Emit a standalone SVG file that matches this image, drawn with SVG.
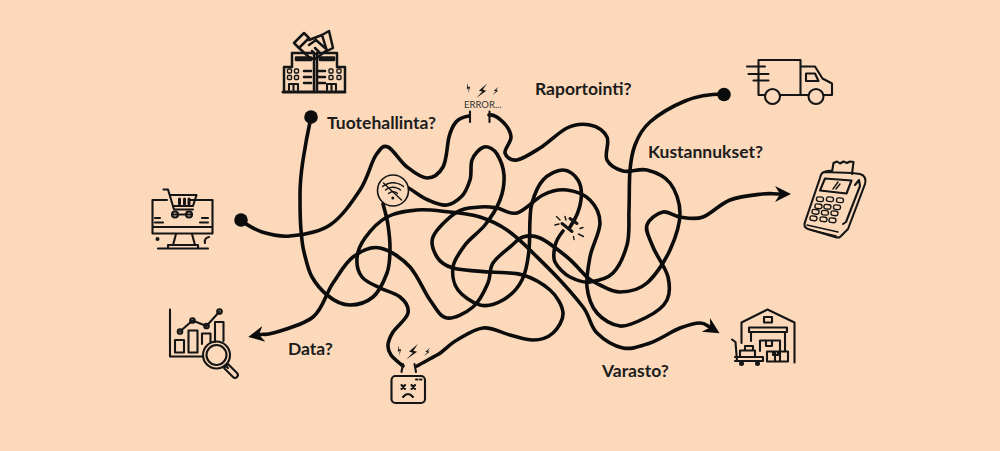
<svg xmlns="http://www.w3.org/2000/svg" width="1000" height="451" viewBox="0 0 1000 451">
<style>
.wire{fill:none;stroke:#0c0c0c;stroke-width:3.6;stroke-linecap:round;stroke-linejoin:round}
.ic{fill:none;stroke:#151515;stroke-width:2.1;stroke-linecap:round;stroke-linejoin:round}
.bd{stroke-width:2.5}
.th{stroke-width:3}
.tn{stroke-width:1.4}
.f{fill:#151515;stroke:none}
.lab{font-family:"Lato","Liberation Sans",sans-serif;font-size:17.500px;font-weight:700;fill:#1c1c1c}
</style>
<defs>
<marker id="ah" markerUnits="userSpaceOnUse" markerWidth="20" markerHeight="20" viewBox="0 -10 20 20" refX="6" refY="0" orient="auto">
<path d="M16 0L0-8L5 0L0 8Z" fill="#0c0c0c"/>
</marker>
<path id="bolt" d="M2-7L-3 0.500H0L-3.500 7L3-1H0Z" fill="#151515"/>
</defs>
<rect width="1000" height="451" fill="#fbd9ba"/>
<g id="connectors">
<path class="wire" d="M311 117C308 131 305 147 303 160S300 183 300 195S300 220 301 230S302 244 304 252S308 270 312 277S321 290 327 295S342 305 350 305S367 302 373 297S384 281 387 273S390 255 390 247S389 232 388 225S385 211 383 204"/>
<path class="wire" d="M241 221C248 225 254 229.500 262 232S279 237 290 236S318 233 330 225S352 202 360 190S371 162 376 155S383 145 388 147S400.500 162 407 167S421 178 427 178S439 174 443 167S447 144.500 449 137S453 125.500 456 122S463 117 469 116"/>
<path class="wire" d="M407 187C414 191 421 197 428 200S441 206 447 205S458 200 462 196S468 186 470 180S470 165.500 472 160S480 148 484 147S494 149 497 154S503.500 167 504 175S503 192 500 200S491 217.500 485 225S470 238 465 245S454 259.500 453 267S453.500 284 458 290S472.500 303 480 305S496 304 503 300S518 288 522 280S528 260 529 250S529.500 228 530 220S530 210 532 203S538 185.500 543 180S557 170 563 170S575 175 578 180S582 192 581 200S577 217 570 227"/>
<path class="wire" d="M563 231C559 236 556 241 555 246S552.500 257 555 262S564 274 570 277S583 283 590 282S607 279 613 273S624 255.500 627 245S628.500 222.500 629 210S629 181 630 170S632 153 635 145S642 129 650 122S673 106 685 101S710 94 723 94"/>
<path class="wire" marker-end="url(#ah)" d="M489 115C494 114 499 118 503 122S510.700 132 511 137S504 149 505 153S511 161 517 160S532 153 540 148S559 132 567 128S583 123.500 590 125S604 131 607 137S604 154 607 160S616 169 623 171S639 168 647 170S664.500 176 670 183S680 202 680 213S675.500 238 670 250S655 276 647 283S628 292 620 292S605.500 287.500 600 285S592.500 282 587 277S575 263.500 567 257S547 241 540 238S528 235.500 523 237S515 243 510 247S497 257 493 263S491 276 488 283S480 301 473 307S454 319 447 318S436 308.500 430 300S418 276 410 267S389.500 250 380 248S361 251 353 257S340 273 333 283S323 309 313 317S283.500 330 273 333S268 333 258 335"/>
<path class="wire" marker-end="url(#ah)" d="M417 366C424 362 430 359 437 355S449 344.500 457 340S474 329 483 328S502 333 510 335S526 340 533 340S548 337.500 553 333S563.500 320 563 313S557 296 550 290S533 278 523 275S502 273 490 272S462 270.500 453 268S440 262 437 257S430 244.500 433 237S449 217 457 212S473 208 480 207S491 207 497 208S509 215 517 213S535 199 543 195S559 189 567 190S584.500 194.500 590 200S600 213.500 600 223S592 246 590 257S586 278 587 287S591.500 306.500 597 313S612 325 620 326S639 321 647 317S663.500 307 667 300S670 286 668 277S656.500 256 653 247S645 231 647 225S657.500 213 663 212S673 216 680 217S695 220 703 217S720 204 730 200S753 195 762 194S772 194 781 194"/>
<path class="wire" marker-end="url(#ah)" d="M403 366C398 362 393.500 358.500 391 355S387.700 349 388 345S390 337 393 332S407 319 408 313S405 301 400 297S386 291 380 288S366 282 362 277S356.500 264.500 357 258S360 245 365 238S378 222 387 217S406.500 211 417 210S439.500 211 450 212S470.500 214 480 217S499 224.500 507 230S522 242 530 250S548 267.500 557 277S576 298 583 307S590 326 597 333S614 346 623 348S640.500 346 650 343S672 331 680 328S695 323 700 323S706 325 711 328"/>
</g>
<g id="dots"><circle cx="311" cy="117" r="6.800" fill="#0c0c0c"/><circle cx="241" cy="220" r="6.800" fill="#0c0c0c"/><circle cx="724" cy="94.500" r="6.800" fill="#0c0c0c"/></g>
<g id="buildings">
<path class="ic th" d="M283 92H345"/>
<path class="ic bd" d="M284 90V67H292V53H314V90M345 90V67H337V53H317V90M296 57.500H311V60H296ZM320 57.500H334V60H320Z"/>
<path class="ic bd" d="M304 71H311M304 77H311M304 83H311M318 71H325M318 77H325M318 83H325"/>
<g class="ic tn"><rect x="287.500" y="69" width="4" height="4" rx="1"/><rect x="294.500" y="69" width="4" height="4" rx="1"/><rect x="287.500" y="75.500" width="4" height="4" rx="1"/><rect x="294.500" y="75.500" width="4" height="4" rx="1"/><rect x="329" y="69" width="4" height="4" rx="1"/><rect x="337" y="69" width="4" height="4" rx="1"/><rect x="329" y="75.500" width="4" height="4" rx="1"/><rect x="337" y="75.500" width="4" height="4" rx="1"/></g>
<path class="ic" d="M289 90V84H298V90M293.500 84V90M327 90V84H336V90M331.500 84V90"/>
<path class="ic bd" fill="#fbd9ba" d="M294 43L304 33L309 38L299 48Z"/>
<path class="ic bd" fill="#fbd9ba" d="M322 35L329 31L333 48L327 51Z"/>
<path class="ic bd" d="M309 40L322 35M299 48L310 58Q315 60 318 57L327 50M309 45L316 40L325 48M312 51L315 54M315 48L319 52"/>
</g>
<g id="monitor">
<path class="ic" d="M167 200H152.500V233.500H212.500V200H190M152.500 227H212.500"/>
<path class="ic" d="M176 234L173 245M192 234L195 245M168 245H198V248.500H168ZM158 248.500H208"/>
<circle class="f" cx="157.500" cy="239" r="2"/>
<path class="ic" d="M209 237Q204 238 205 243"/>
<path class="ic" d="M163.500 189.500H168L174 209.500H193M170.500 195H196.500L193 206H173.500"/>
<path class="ic th" d="M179.500 199V204M184.500 199V204M189 199V204"/>
<path class="ic" d="M172 214.500H192"/><circle class="ic" cx="175" cy="214.500" r="3"/><circle class="ic" cx="189" cy="214.500" r="3"/>
<path class="ic" d="M155 218H160M155 222.500H163M202 218H208M200 222.500H208"/>
</g>
<g id="chart">
<path class="ic" d="M170 309.500V356.500H203"/>
<rect class="ic" x="175" y="340" width="9" height="12.500"/><rect class="ic" x="188.500" y="330.500" width="9" height="22"/><path class="ic" d="M202 344V333.500H210.500V342M215 342V322H223.500V341"/>
<path class="ic" d="M180 331.500L192.500 320.500L206.500 326L219.500 311.500"/>
<g class="ic" fill="#fbd9ba"><circle cx="180" cy="331.500" r="2.300"/><circle cx="192.500" cy="320.500" r="2.300"/><circle cx="206.500" cy="326" r="2.300"/><circle cx="219.500" cy="311.500" r="2.300"/></g>
<circle class="ic" cx="216.500" cy="355" r="13.500"/><circle class="ic" cx="216.500" cy="355" r="10"/>
<path class="ic" d="M225.500 365.500L228 368M228 364L237 373A2.800 2.800 0 0 1 233 377L224 368Z"/>
</g>
<g id="truck">
<path class="ic" d="M758.500 60H800.500V95H780M764.500 95H758.500V60M800.500 66.500H815L822.500 78.500L832 83.500V95H824M808 95H800M806 73.500H815L818.500 81H806Z"/>
<circle class="ic" cx="772.500" cy="96.500" r="7.500"/><circle class="ic" cx="816" cy="96.500" r="7.500"/>
<path class="ic" d="M747 66.500H765M748.500 74H768.500M753.500 80.500H768.500"/>
</g>
<g id="pos">
<path class="ic" d="M824 172Q830 170 832 171M852 173L860 174Q867 176 865 184L848 229L840 237Q838 238 835 237L808 229Q803 227 805 222L820 178Q821 173 824 172Z"/>
<path class="ic" d="M832 172L833.500 163L837 161.500L840 163.500L843.500 161.500L847 163L850 161.500L853.500 162L852 174"/>
<path class="ic" d="M825 178.500L851.500 180.500L846.500 193.500L820 190.500Z"/>
<path class="ic tn" d="M833 189L838 182M836 189L840 184"/>
<path class="ic" d="M855 185L859 180L860 186L846 222L843 224"/>
<g class="ic tn"><rect x="816.500" y="197" width="7" height="4.500" rx="2" transform="rotate(6 820 199)"/><rect x="826.500" y="197" width="7" height="4.500" rx="2" transform="rotate(6 830 199)"/><rect x="836.500" y="198" width="7" height="4.500" rx="2" transform="rotate(6 840 200)"/><rect x="815" y="204" width="7" height="4.500" rx="2" transform="rotate(6 818 206)"/><rect x="824" y="204.500" width="7" height="4.500" rx="2" transform="rotate(6 827 206)"/><rect x="833.500" y="205" width="7" height="4.500" rx="2" transform="rotate(6 837 207)"/><rect x="812" y="209.500" width="7" height="4.500" rx="2" transform="rotate(6 815 212)"/><rect x="821.500" y="210.500" width="7" height="4.500" rx="2" transform="rotate(6 825 212)"/><rect x="831" y="211" width="7" height="4.500" rx="2" transform="rotate(6 834 213)"/><rect x="810" y="216" width="7" height="4.500" rx="2" transform="rotate(6 813 218)"/><rect x="820" y="217" width="7" height="4.500" rx="2" transform="rotate(6 823 219)"/><rect x="829" y="218" width="7" height="4.500" rx="2" transform="rotate(6 832 220)"/></g>
<path class="ic tn" d="M807 225L838 232M811 230L836 236"/>
</g>
<g id="warehouse">
<path class="ic" d="M741.500 343V322.500L767.500 309.500L794.500 322.500V362.500"/>
<rect class="ic" x="764" y="317" width="8" height="5.500"/>
<rect class="ic" x="749" y="327.500" width="38" height="4.500"/>
<path class="ic" d="M751 332V341M785 332V351"/>
<path class="ic" d="M760 351V340.500H780V351M767 351.500H788V361.500H767ZM775 351.500V361.500M780 351.500V361.500M766 340.500V346H772V340.500M773 351.500V355H778V351.500"/>
<path class="ic" d="M732 339.500L735.500 342L737 361M735 357H763V361H735"/>
<path class="ic" d="M740 357V350.500H755V357M745 350.500V346H753V350.500"/>
<circle class="f" cx="741.500" cy="363.500" r="2.500"/><circle class="f" cx="757.500" cy="363.500" r="2.500"/>
</g>
<g id="robot">
<rect class="ic" x="391.500" y="376" width="33.500" height="27" rx="4"/>
<path class="ic" d="M403 364L401.500 372M414.500 364L416 372"/>
<path class="ic" d="M401.500 385L405 389M405 385L401.500 389M411.500 385L415 389M415 385L411.500 389"/>
<path class="ic" d="M403 397Q408 391 413 397"/>
<path class="ic" d="M416 379.500H417.500M420 379.500H421.500"/>
<use href="#bolt" transform="translate(399.500 350.500) scale(.7) rotate(-25)"/>
<use href="#bolt" transform="translate(413 352) scale(1.300) rotate(15)"/>
<use href="#bolt" transform="translate(427.500 352) scale(.7) rotate(15)"/>
</g>
<g id="error">
<path class="ic" d="M470 111.500V122M489.500 111.500V122"/>
<use href="#bolt" transform="translate(468.500 88) scale(.7) rotate(-25)"/>
<use href="#bolt" transform="translate(482.500 91) scale(1.200) rotate(15)"/>
<use href="#bolt" transform="translate(496 91) scale(.7) rotate(15)"/>
<text x="464" y="107.500" font-family="Lato,'Liberation Sans',sans-serif" font-size="9.500" fill="#333">ERROR...</text>
</g>
<g id="wifi">
<circle cx="393" cy="190.500" r="15.500" fill="#fbd9ba" stroke="#151515" stroke-width="1.600"/>
<path class="ic tn" d="M388.500 193.500Q393 190 397.500 193.500M385.500 190Q393 184.500 400.500 190M382.500 186.500Q393 179 403.500 186.500" stroke-dasharray="3 .6"/>
<circle class="f" cx="392.800" cy="198" r="1.500"/>
<path class="ic tn" d="M383.500 183L401.500 200"/>
</g>
<g id="spark">
<path class="ic th" d="M562 223.500L572 231.500M570 218.500L577 223.500"/>
<path class="ic tn" d="M556.500 216.500L560 220M555 225L559 224M565 216.500L566 220M580 228.500L583 227.500M578.500 234L583.500 236.500M573.500 236.500L574 239.500"/>
</g>
<g id="labels">
<text class="lab" x="327" y="129">Tuotehallinta?</text>
<text class="lab" x="535" y="95">Raportointi?</text>
<text class="lab" x="648" y="158">Kustannukset?</text>
<text class="lab" x="288" y="355">Data?</text>
<text class="lab" x="602" y="377">Varasto?</text>
</g>
</svg>
